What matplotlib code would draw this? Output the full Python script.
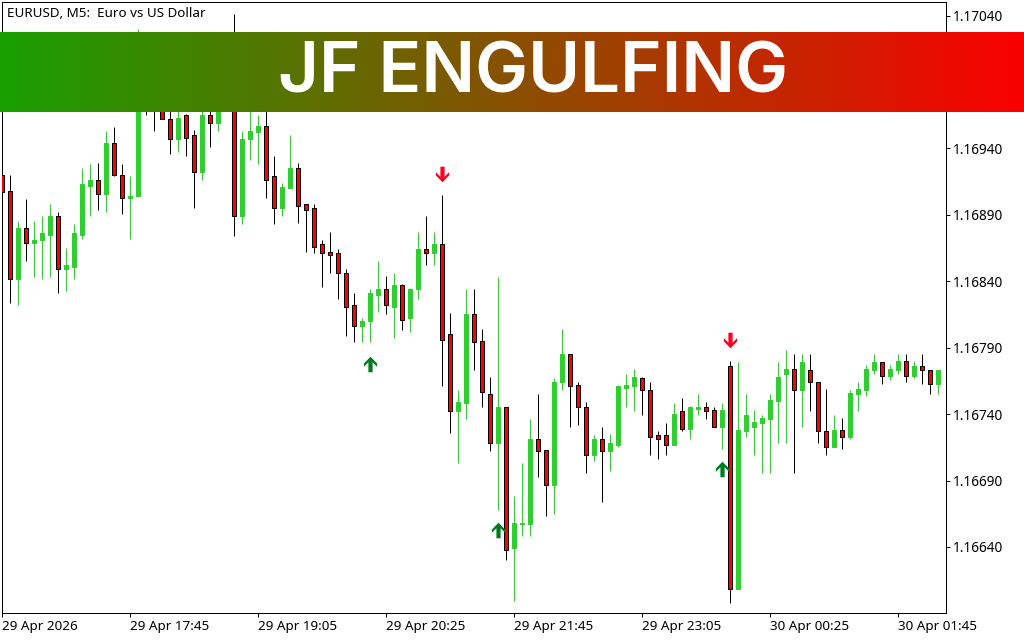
import numpy as np
import matplotlib
matplotlib.use("Agg")
import matplotlib.pyplot as plt
from matplotlib.path import Path
from matplotlib.colors import LinearSegmentedColormap

opens = [
    1.16920,1.16908,1.16842,1.16880,1.16869,1.16871,1.16875,1.16889,1.16849,1.16851,
    1.16875,1.16912,1.16916,1.16906,1.16944,1.16920,1.16903,1.16904,1.16977,1.16975,
    1.16972,1.16962,1.16947,1.16965,1.16950,1.16922,1.16965,1.16959,1.16973,1.16977,
    1.16889,1.16947,1.16952,1.16957,1.16919,1.16895,1.16910,1.16925,1.16898,1.16895,
    1.16868,1.16862,1.16861,1.16846,1.16822,1.16806,1.16810,1.16830,1.16834,1.16821,
    1.16837,1.16812,1.16834,1.16864,1.16861,1.16868,1.16800,1.16742,1.16748,1.16815,
    1.16795,1.16755,1.16718,1.16745,1.16639,1.16657,1.16657,1.16721,1.16713,1.16687,
    1.16764,1.16785,1.16762,1.16745,1.16709,1.16721,1.16712,1.16717,1.16760,1.16761,
    1.16767,1.16758,1.16724,1.16724,1.16717,1.16742,1.16729,1.16744,1.16745,1.16743,
    1.16730,1.16776,1.16608,1.16727,1.16730,1.16733,1.16736,1.16750,1.16770,1.16774,
    1.16758,1.16773,1.16764,1.16727,1.16715,1.16728,1.16723,1.16755,1.16758,1.16773,
    1.16779,1.16769,1.16773,1.16780,1.16769,1.16776,1.16773,1.16763,
]
highs = [
    1.16920,1.16920,1.16885,1.16902,1.16885,1.16889,1.16898,1.16892,1.16865,1.16883,
    1.16925,1.16928,1.16929,1.16953,1.16956,1.16928,1.16919,1.17030,1.16985,1.16985,
    1.16980,1.16970,1.16972,1.16966,1.16954,1.16973,1.16969,1.16982,1.16990,1.17041,
    1.16953,1.16973,1.16965,1.16977,1.16934,1.16914,1.16950,1.16929,1.16898,1.16898,
    1.16871,1.16877,1.16864,1.16849,1.16831,1.16812,1.16834,1.16855,1.16844,1.16846,
    1.16838,1.16835,1.16877,1.16889,1.16877,1.16905,1.16816,1.16758,1.16834,1.16834,
    1.16804,1.16768,1.16843,1.16745,1.16678,1.16703,1.16736,1.16755,1.16713,1.16767,
    1.16804,1.16785,1.16764,1.16749,1.16724,1.16730,1.16725,1.16762,1.16770,1.16774,
    1.16768,1.16764,1.16727,1.16733,1.16748,1.16752,1.16746,1.16755,1.16749,1.16745,
    1.16748,1.16780,1.16779,1.16755,1.16743,1.16739,1.16755,1.16779,1.16788,1.16785,
    1.16785,1.16785,1.16764,1.16759,1.16739,1.16737,1.16758,1.16764,1.16777,1.16785,
    1.16779,1.16777,1.16785,1.16785,1.16780,1.16785,1.16773,1.16773,
]
lows = [
    1.16824,1.16824,1.16822,1.16855,1.16843,1.16842,1.16843,1.16831,1.16833,1.16842,
    1.16872,1.16889,1.16894,1.16892,1.16919,1.16891,1.16872,1.16904,1.16965,1.16953,
    1.16962,1.16936,1.16937,1.16934,1.16895,1.16916,1.16941,1.16953,1.16971,1.16874,
    1.16883,1.16931,1.16928,1.16903,1.16883,1.16889,1.16910,1.16884,1.16862,1.16861,
    1.16836,1.16846,1.16827,1.16799,1.16794,1.16794,1.16794,1.16817,1.16815,1.16797,
    1.16803,1.16802,1.16827,1.16852,1.16852,1.16761,1.16726,1.16703,1.16736,1.16773,
    1.16745,1.16712,1.16668,1.16630,1.16599,1.16648,1.16648,1.16693,1.16663,1.16665,
    1.16758,1.16730,1.16732,1.16696,1.16705,1.16674,1.16697,1.16715,1.16745,1.16742,
    1.16739,1.16709,1.16706,1.16709,1.16717,1.16727,1.16721,1.16739,1.16736,1.16730,
    1.16714,1.16598,1.16608,1.16723,1.16709,1.16696,1.16696,1.16718,1.16718,1.16696,
    1.16730,1.16742,1.16718,1.16709,1.16715,1.16714,1.16721,1.16742,1.16754,1.16770,
    1.16763,1.16766,1.16770,1.16764,1.16767,1.16763,1.16755,1.16755,
]
closes = [
    1.16907,1.16842,1.16880,1.16869,1.16871,1.16876,1.16889,1.16849,1.16852,1.16876,
    1.16913,1.16916,1.16906,1.16944,1.16920,1.16903,1.16904,1.16977,1.16969,1.16968,
    1.16962,1.16947,1.16963,1.16948,1.16922,1.16965,1.16959,1.16977,1.16982,1.16889,
    1.16947,1.16953,1.16957,1.16916,1.16895,1.16911,1.16925,1.16897,1.16894,1.16866,
    1.16861,1.16860,1.16846,1.16821,1.16806,1.16810,1.16831,1.16834,1.16822,1.16837,
    1.16811,1.16834,1.16864,1.16861,1.16868,1.16796,1.16742,1.16749,1.16815,1.16794,
    1.16757,1.16718,1.16745,1.16638,1.16658,1.16658,1.16721,1.16712,1.16687,1.16764,
    1.16785,1.16761,1.16745,1.16709,1.16721,1.16712,1.16718,1.16761,1.16762,1.16768,
    1.16758,1.16723,1.16721,1.16717,1.16740,1.16729,1.16745,1.16745,1.16742,1.16730,
    1.16743,1.16608,1.16728,1.16739,1.16734,1.16737,1.16751,1.16768,1.16774,1.16758,
    1.16779,1.16764,1.16727,1.16715,1.16728,1.16723,1.16756,1.16759,1.16774,1.16779,
    1.16769,1.16774,1.16780,1.16769,1.16776,1.16773,1.16763,1.16773,
]

y_ticks = [1.16640,1.16690,1.16740,1.16790,1.16840,1.16890,1.16940,1.16990,1.17040]
x_tick_bars = [0,16,32,48,64,80,96,112]
x_tick_labels = ["29 Apr 2026","29 Apr 17:45","29 Apr 19:05","29 Apr 20:25",
                 "29 Apr 21:45","29 Apr 23:05","30 Apr 00:25","30 Apr 01:45"]

buy_bars = [46,62,90]
buy_prices = [1.16778,1.16653,1.16699]
sell_bars = [55,91]
sell_prices = [1.16921,1.16796]

GREEN = "#32CD32"
RED = "#FF0000"
W, H = 1024, 640
LABEL_FONT = "Noto Sans"

fig = plt.figure(figsize=(W/100, H/100), dpi=100, facecolor="white")
# box sits on whole pixels so the 1px lines snap where the reference has them
ax = fig.add_axes([2/W, 27/H, 944/W, 611/H])

opens = np.array(opens)
closes = np.array(closes)
highs = np.array(highs)
lows = np.array(lows)
x = np.arange(len(opens))
up = closes > opens

# wicks first, bodies on top
ax.vlines(x[up], lows[up], highs[up], color=GREEN, lw=0.72, zorder=2)
ax.vlines(x[~up], lows[~up], highs[~up], color="black", lw=0.72, zorder=2)
ax.bar(x[up], (closes-opens)[up], bottom=opens[up], width=0.5, color=GREEN,
       edgecolor=GREEN, linewidth=0.72, zorder=3)
ax.bar(x[~up], (opens-closes)[~up], bottom=closes[~up], width=0.5, color=RED,
       edgecolor="black", linewidth=0.72, zorder=3)

# signal arrows
arrow_up = Path([(0,1),(0.85,0.12),(0.85,-0.3),(0.27,0.28),(0.27,-1),(-0.27,-1),
                 (-0.27,0.28),(-0.85,-0.3),(-0.85,0.12),(0,1)], closed=True)
arrow_down = Path(arrow_up.vertices*[1,-1], closed=True)
ax.plot(buy_bars, buy_prices, ls="none", marker=arrow_up, ms=11.2, color="#007A20",
        mew=0, zorder=4)
ax.plot(sell_bars, sell_prices, ls="none", marker=arrow_down, ms=11.2, color="#FF0022",
        mew=0, zorder=4)

ax.set_xlim(0, 118)
ax.set_ylim(1.165903, 1.170502)
ax.yaxis.tick_right()
ax.set_yticks(y_ticks)
ax.set_yticklabels(["%.5f" % v for v in y_ticks], fontsize=9.8, family=LABEL_FONT)
ax.set_xticks(x_tick_bars)
ax.set_xticklabels(x_tick_labels, fontsize=9.7, family=LABEL_FONT, ha="left")
ax.tick_params(axis="both", length=3, width=0.72, color="black", pad=2)
for s in ax.spines.values():
    s.set_linewidth(0.72)
    s.set_color("black")

fig.text(7/W, 1-13.5/H, "EURUSD, M5:  Euro vs US Dollar", fontsize=9.7, family=LABEL_FONT,
         ha="left", va="center")

# banner across the whole figure
cmap = LinearSegmentedColormap.from_list("banner", ["#18A000", "#FA0000"])
ban = fig.add_axes([0, (H-112)/H, 1, 80/H], zorder=10)
ban.imshow(np.linspace(0, 1, W).reshape(1, -1), cmap=cmap, aspect="auto", extent=[0, 1, 0, 1])
ban.axis("off")
ban.text(533.5/W, 0.47, "JF ENGULFING", color="white", fontsize=51, family="Inter",
         fontweight="semibold", ha="center", va="center", transform=ban.transAxes)

fig.savefig("out.png", dpi=100)
